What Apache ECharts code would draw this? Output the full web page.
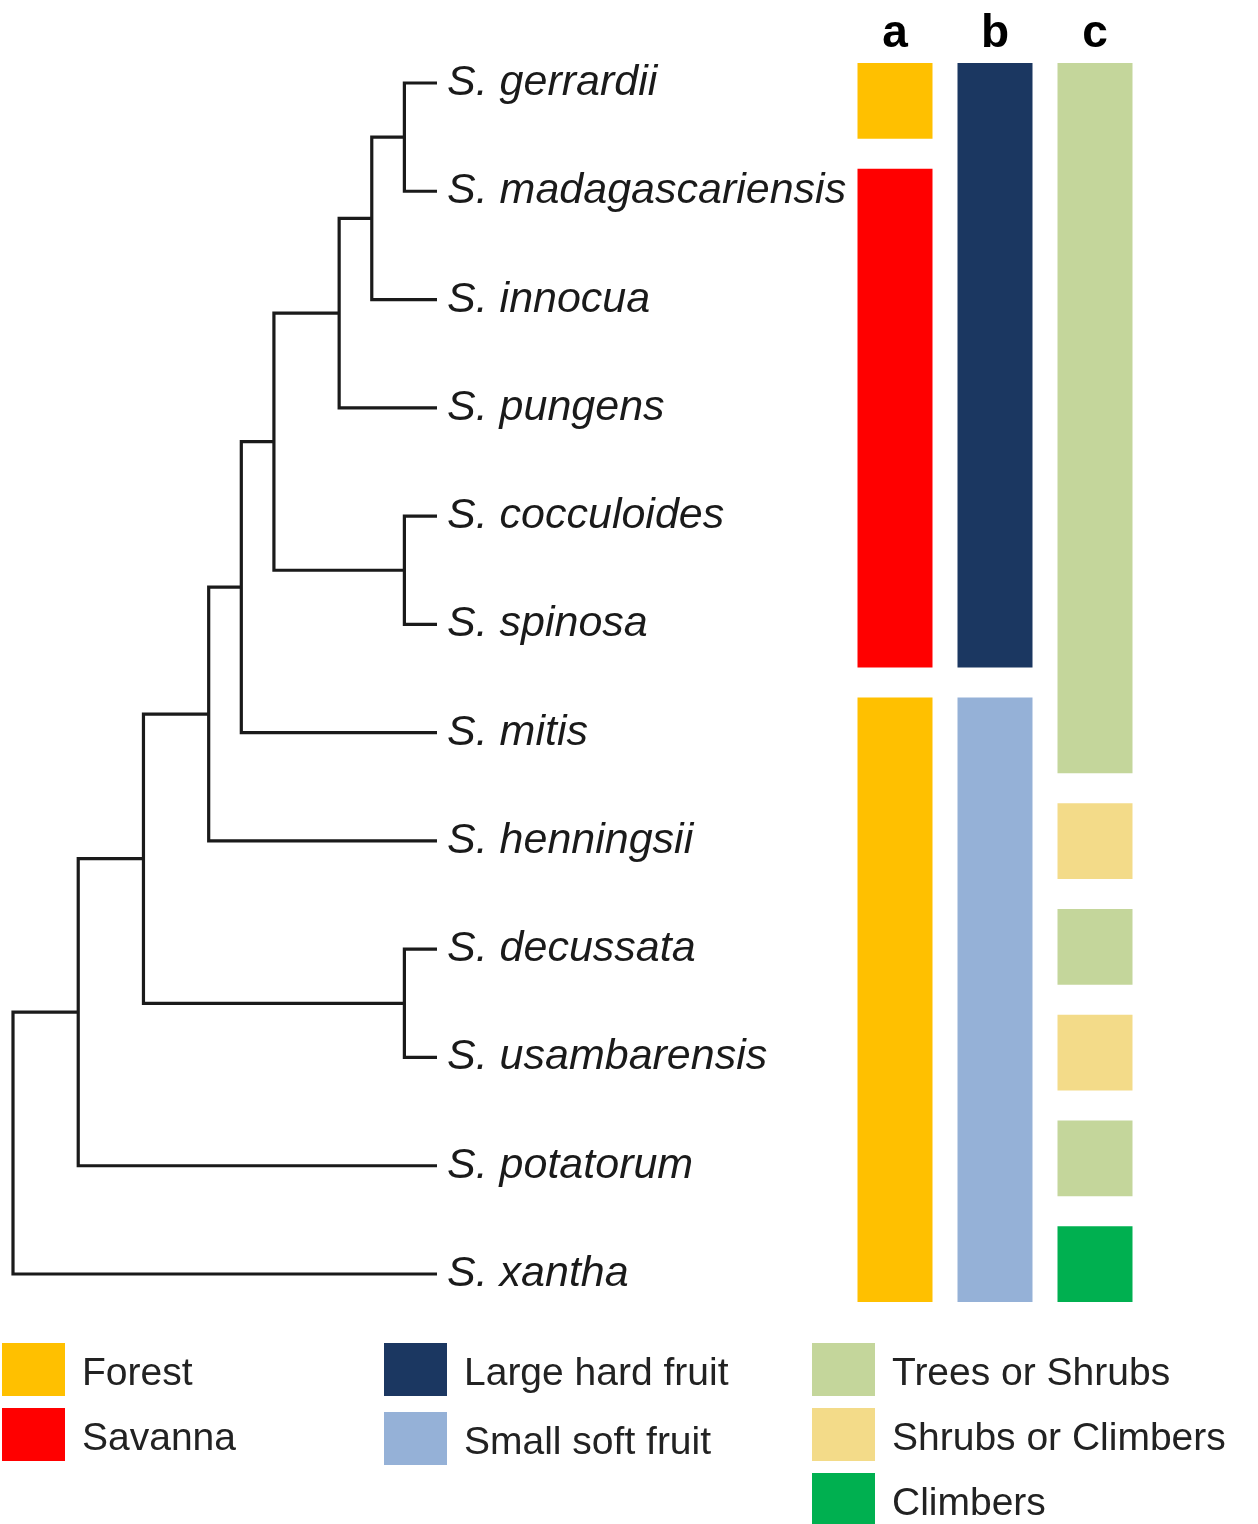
<!DOCTYPE html>
<html>
<head>
<meta charset="utf-8">
<title>Strychnos phylogeny and traits</title>
<script src="https://cdn.jsdelivr.net/npm/echarts@6/dist/echarts.min.js"></script>
<style>
  html, body { margin: 0; padding: 0; background: #ffffff; }
  #chart { width: 1258px; height: 1524px; }
</style>
</head>
<body>
<div id="chart"></div>
<script>
// Tip labels, top to bottom
const species = [
  'gerrardii', 'madagascariensis', 'innocua', 'pungens', 'cocculoides', 'spinosa',
  'mitis', 'henningsii', 'decussata', 'usambarensis', 'potatorum', 'xantha'
];

// Internal nodes: ids 12.. in order; children are tip indices (0-11) or earlier node ids
const nodeChildren = [
  [0, 1],    // 12
  [12, 2],   // 13
  [13, 3],   // 14
  [4, 5],    // 15
  [14, 15],  // 16
  [16, 6],   // 17
  [17, 7],   // 18
  [8, 9],    // 19
  [18, 19],  // 20
  [20, 10],  // 21
  [21, 11]   // 22 (root)
];
// Node depth measured back from the tips
const nodeDepth = [1, 2, 3, 1, 5, 6, 7, 1, 9, 11, 13];

// Trait columns
const traitColumns = ['a', 'b', 'c'];
const habitat = ['Forest', 'Savanna', 'Savanna', 'Savanna', 'Savanna', 'Savanna',
  'Forest', 'Forest', 'Forest', 'Forest', 'Forest', 'Forest'];
const fruit = ['Large hard fruit', 'Large hard fruit', 'Large hard fruit', 'Large hard fruit',
  'Large hard fruit', 'Large hard fruit', 'Small soft fruit', 'Small soft fruit',
  'Small soft fruit', 'Small soft fruit', 'Small soft fruit', 'Small soft fruit'];
const growth = ['Trees or Shrubs', 'Trees or Shrubs', 'Trees or Shrubs', 'Trees or Shrubs',
  'Trees or Shrubs', 'Trees or Shrubs', 'Trees or Shrubs', 'Shrubs or Climbers',
  'Trees or Shrubs', 'Shrubs or Climbers', 'Trees or Shrubs', 'Climbers'];

const habitatStates = ['Forest', 'Savanna'];
const fruitStates = ['Large hard fruit', 'Small soft fruit'];
const growthStates = ['Trees or Shrubs', 'Shrubs or Climbers', 'Climbers'];

const stateColors = {
  'Forest': '#FFC000',
  'Savanna': '#FF0000',
  'Large hard fruit': '#1B3761',
  'Small soft fruit': '#95B1D7',
  'Trees or Shrubs': '#C4D69B',
  'Shrubs or Climbers': '#F3DB89',
  'Climbers': '#00B050'
};

// ---- tree geometry ----
const pos = {}; // id -> [depth, row]
species.forEach((s, i) => { pos[i] = [0, i]; });
const treeData = nodeChildren.map((ch, k) => {
  const id = species.length + k;
  const a = pos[ch[0]], b = pos[ch[1]];
  pos[id] = [nodeDepth[k], (a[1] + b[1]) / 2];
  return [pos[id][0], pos[id][1], a[0], a[1], b[0], b[1]];
});
const tipData = species.map((s, i) => [0, i]);

// ---- trait runs: consecutive tips sharing a state become one block ----
function runs(values, col) {
  const out = [];
  let start = 0;
  for (let i = 1; i <= values.length; i++) {
    if (i === values.length || values[i] !== values[start]) {
      out.push({ state: values[start], item: [col, start, i] });
      start = i;
    }
  }
  return out;
}
const allRuns = [].concat(runs(habitat, 0), runs(fruit, 1), runs(growth, 2));

const LINE = '#1a1a1a';
const BLOCK_GAP = 30;

function renderBranch(params, api) {
  const p = api.coord([api.value(0), api.value(1)]);
  const a = api.coord([api.value(2), api.value(3)]);
  const b = api.coord([api.value(4), api.value(5)]);
  return {
    type: 'polyline',
    shape: { points: [[a[0], a[1]], [p[0], a[1]], [p[0], b[1]], [b[0], b[1]]] },
    style: { stroke: LINE, lineWidth: 3.2, fill: 'none', lineJoin: 'miter' }
  };
}

function renderTip(params, api) {
  const p = api.coord([api.value(0), api.value(1)]);
  return {
    type: 'text',
    x: p[0] + 10,
    y: p[1],
    style: {
      text: 'S. ' + species[params.dataIndex],
      fontFamily: 'Liberation Sans, Arial, sans-serif',
      fontStyle: 'italic',
      fontSize: 43,
      fill: '#1a1a1a',
      align: 'left',
      verticalAlign: 'middle'
    }
  };
}

function renderBlock(params, api) {
  const top = api.coord([api.value(0), api.value(1)]);
  const bottom = api.coord([api.value(0), api.value(2)]);
  const w = api.size([1, 0])[0] * 0.75;
  return {
    type: 'rect',
    shape: { x: top[0] - w / 2, y: top[1], width: w, height: bottom[1] - top[1] - BLOCK_GAP },
    style: { fill: api.visual('color') }
  };
}

const stateSeries = Object.keys(stateColors).map(state => ({
  type: 'custom',
  name: state,
  xAxisIndex: 1,
  yAxisIndex: 1,
  clip: false,
  silent: true,
  itemStyle: { color: stateColors[state] },
  renderItem: renderBlock,
  encode: { x: 0, y: [1, 2] },
  data: allRuns.filter(r => r.state === state).map(r => r.item)
}));

const legendBase = {
  orient: 'vertical',
  icon: 'rect',
  itemWidth: 63,
  itemHeight: 53,
  itemGap: 12,
  padding: 0,
  height: 220,
  selectedMode: false,
  formatter: '{t|{name}}',
  textStyle: {
    padding: [0, 0, 0, 12],
    rich: {
      t: {
        fontFamily: 'Liberation Sans, Arial, sans-serif',
        fontSize: 39,
        color: '#222222',
        padding: [9, 0, 0, 0]
      }
    }
  }
};

const chart = echarts.init(document.getElementById('chart'), null, { renderer: 'canvas' });
chart.setOption({
  backgroundColor: '#ffffff',
  animation: false,
  grid: [
    { left: 13, width: 424, top: 83, height: 1191 },
    { left: 845, width: 300, top: 63, height: 1269 }
  ],
  xAxis: [
    { type: 'value', gridIndex: 0, min: 0, max: 13, inverse: true, show: false },
    {
      type: 'category', gridIndex: 1, data: traitColumns, position: 'top',
      axisLine: { show: false }, axisTick: { show: false }, splitLine: { show: false },
      axisLabel: {
        margin: 6,
        fontFamily: 'Liberation Sans, Arial, sans-serif',
        fontWeight: 'bold',
        fontSize: 46,
        color: '#000000'
      }
    }
  ],
  yAxis: [
    { type: 'value', gridIndex: 0, min: 0, max: 11, inverse: true, show: false },
    { type: 'value', gridIndex: 1, min: 0, max: 12, inverse: true, show: false }
  ],
  legend: [
    Object.assign({}, legendBase, { left: 2, top: 1343, data: habitatStates }),
    Object.assign({}, legendBase, { left: 384, top: 1343, itemGap: 16, data: fruitStates }),
    Object.assign({}, legendBase, { left: 812, top: 1343, data: growthStates })
  ],
  series: [
    {
      type: 'custom', name: 'branches', xAxisIndex: 0, yAxisIndex: 0,
      clip: false, silent: true, renderItem: renderBranch,
      encode: { x: [0, 2, 4], y: [1, 3, 5] }, data: treeData
    },
    {
      type: 'custom', name: 'tips', xAxisIndex: 0, yAxisIndex: 0,
      clip: false, silent: true, renderItem: renderTip,
      encode: { x: 0, y: 1 }, data: tipData
    }
  ].concat(stateSeries)
});
</script>
</body>
</html>
